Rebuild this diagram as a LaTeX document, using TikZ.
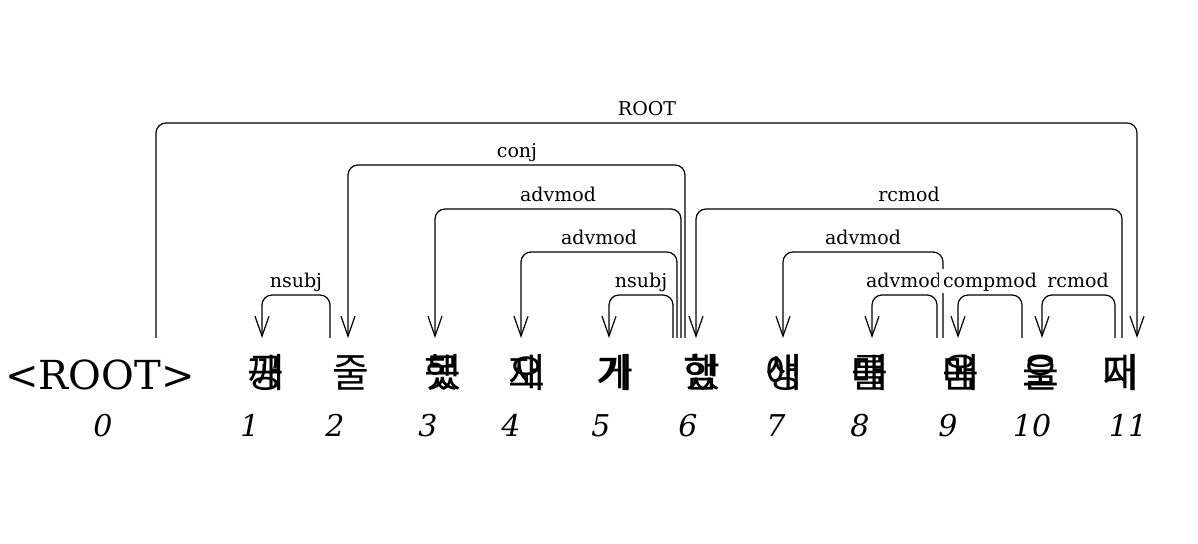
\documentclass[tikz,border=0pt]{standalone}
\usepackage{fontspec}
\setmainfont{DejaVu Serif}
\newfontfamily\kofont{Noto Sans CJK KR}
\usetikzlibrary{arrows.meta}
\newcommand{\dbl}[2]{\makebox[0pt][l]{#1}#2}

\begin{document}
\begin{tikzpicture}[x=0.5pt, y=-0.5pt, every node/.style={inner sep=0pt}, >={Straight Barb[length=10pt, width=7pt]},
  dep/.style={->, line width=0.6pt, rounded corners=5pt},
  lbl/.style={font=\fontsize{9.5}{11}\selectfont, fill=white, inner xsep=2pt, inner ysep=0.5pt, text height=9pt, text depth=2pt, anchor=base},
  word/.style={font=\fontsize{20}{24}\selectfont, anchor=base},
  kword/.style={font=\kofont\fontsize{20}{24}\selectfont, anchor=base},
  idx/.style={font=\fontsize{15}{18}\selectfont\itshape, anchor=base}]
	\useasboundingbox (0,0) rectangle (1198,544);
	% words and their indices
	\node[word] (w0) at (100,390) {<ROOT>};
	\node[kword] (w1) at (266,388) {\dbl{공}{깨}}; \node[kword] (w2) at (351,388) {줄}; \node[kword] (w3) at (443,388) {\dbl{못}{했}};
	\node[kword] (w4) at (527,388) {\dbl{오}{재}}; \node[kword] (w5) at (615,388) {\dbl{가}{게}}; \node[kword] (w6) at (702,388) {\dbl{함}{했}};
	\node[kword] (w7) at (784,388) {\dbl{생}{애}}; \node[kword] (w8) at (870,388) {\dbl{를}{매}}; \node[kword] (w9) at (961,388) {\dbl{옴}{매}};
	\node[kword] (w10) at (1041,388) {\dbl{을}{오}}; \node[kword] (w11) at (1121,388) {\dbl{지}{대}};
	\foreach \i/\x in {0/103, 1/250, 2/335, 3/428, 4/511, 5/601, 6/688, 7/776, 8/860, 9/948, 10/1032, 11/1128}
		\node[idx] (i\i) at (\x,437) {\i};
	% arc ends above the words
	\coordinate (r0) at (156,338); \coordinate (t2) at (330,338); \coordinate (t6a) at (673,338); \coordinate (t6b) at (677,338); \coordinate (t6c) at (681,338); \coordinate (t6d) at (685,338);
	\coordinate (t8) at (937,338); \coordinate (t9) at (943,338); \coordinate (t10) at (1022,338); \coordinate (t11a) at (1115,338); \coordinate (t11b) at (1122,338);
	\coordinate (h1) at (262,338); \coordinate (h2) at (348,338); \coordinate (h3) at (435,338); \coordinate (h4) at (521,338); \coordinate (h5) at (609,338); \coordinate (h6) at (696,338);
	\coordinate (h7) at (783,338); \coordinate (h8) at (872,338); \coordinate (h9) at (958,338); \coordinate (h10) at (1042,338); \coordinate (h11) at (1137,338);
	% arcs
	\draw[dep] (r0) -- ++(0,-215) -| (h11);
	\draw[dep] (t6d) -- ++(0,-173) -| (h2);
	\draw[dep] (t6c) -- ++(0,-129) -| (h3);
	\draw[dep] (t6b) -- ++(0,-86) -| (h4);
	\draw[dep] (t6a) -- ++(0,-43) -| (h5);
	\draw[dep] (t2) -- ++(0,-43) -| (h1);
	\draw[dep] (t11b) -- ++(0,-129) -| (h6);
	\draw[dep] (t9) -- ++(0,-86) -| (h7);
	\draw[dep] (t8) -- ++(0,-43) -| (h8);
	\draw[dep] (t10) -- ++(0,-43) -| (h9);
	\draw[dep] (t11a) -- ++(0,-43) -| (h10);
	% labels
	\node[lbl] (lroot) at (647,116) {ROOT};
	\node[lbl] (lconj) at (517,158) {conj};
	\node[lbl] (ladv3) at (558,202) {advmod};
	\node[lbl] (ladv4) at (599,245) {advmod};
	\node[lbl] (lsub5) at (641,288) {nsubj};
	\node[lbl] (lsub1) at (296,288) {nsubj};
	\node[lbl] (lrc6) at (909,202) {rcmod};
	\node[lbl] (ladv7) at (863,245) {advmod};
	\node[lbl] (ladv8) at (904,288) {advmod};
	\node[lbl] (lcomp) at (990,288) {compmod};
	\node[lbl] (lrc10) at (1078,288) {rcmod};
\end{tikzpicture}
\end{document}
